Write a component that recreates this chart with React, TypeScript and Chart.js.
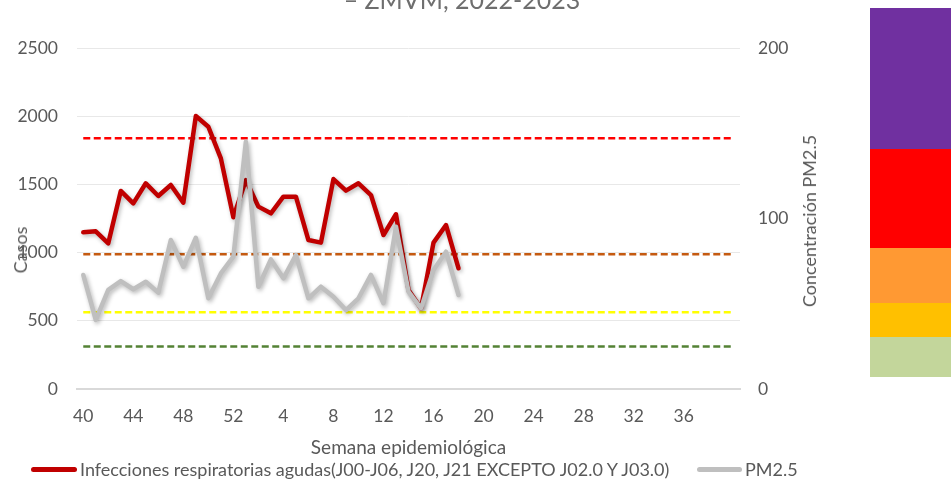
import React, { useEffect, useRef } from 'react';
import { Chart, registerables } from 'chart.js';

Chart.register(...registerables);

// Epidemiological weeks (2022 week 40 → 2023)
const weeks = [40, 41, 42, 43, 44, 45, 46, 47, 48, 49, 50, 51, 52,
  1, 2, 3, 4, 5, 6, 7, 8, 9, 10, 11, 12, 13, 14, 15, 16, 17, 18, 19, 20,
  21, 22, 23, 24, 25, 26, 27, 28, 29, 30, 31, 32, 33, 34, 35, 36, 37, 38, 39, 40];

// Casos: Infecciones respiratorias agudas
const infecciones = [1149, 1156, 1068, 1452, 1361, 1508, 1415, 1496, 1366, 2001, 1923, 1691, 1259,
  1532, 1337, 1288, 1410, 1410, 1092, 1073, 1539, 1454, 1508, 1422, 1129, 1281, 726, 591, 1073, 1202, 885];

// Concentración PM2.5
const pm25 = [66.9, 40.5, 58.1, 63.3, 58.5, 62.9, 56.5, 87.4, 71.7, 88.7, 53.2, 67.8, 77.6,
  145, 60, 76, 64.9, 78.6, 53.2, 60, 54.1, 46.3, 53.2, 66.9, 50.3, 95.2, 57.1, 47.3, 69.8, 80.5, 55.1];

// PM2.5 index thresholds (right axis)
const thresholds = [147, 79, 45, 25];

const seriesNames = ['Infecciones respiratorias agudas(J00-J06, J20, J21 EXCEPTO J02.0 Y J03.0)', 'PM2.5'];
const leftTicks = [0, 500, 1000, 1500, 2000, 2500];
const rightTicks = [0, 100, 200];

const thresholdColors = ['#FF0000', '#C55A11', '#FFFF00', '#548235'];
const FONT = 'Lato, "Open Sans", sans-serif';
const TXT = '#595959';

const shadowPlugin = {
  id: 'lineShadow',
  beforeDatasetDraw(chart: any, args: any) {
    const ds = chart.data.datasets[args.index];
    if (!ds.shadow) return;
    const ctx = chart.ctx;
    ctx.save();
    ctx.shadowColor = 'rgba(0,0,0,0.28)';
    ctx.shadowBlur = 4;
    ctx.shadowOffsetX = 1.5;
    ctx.shadowOffsetY = 2;
  },
  afterDatasetDraw(chart: any, args: any) {
    const ds = chart.data.datasets[args.index];
    if (!ds.shadow) return;
    chart.ctx.restore();
  },
};

export default function App() {
  const ref = useRef<HTMLCanvasElement | null>(null);

  useEffect(() => {
    if (!ref.current) return;
    const last = weeks.length - 1;
    const chart = new Chart(ref.current, {
      type: 'line',
      data: {
        labels: weeks.map(String),
        datasets: [
          {
            label: seriesNames[1],
            data: pm25,
            yAxisID: 'y1',
            borderColor: '#BFBFBF',
            backgroundColor: '#BFBFBF',
            borderWidth: 4.5,
            pointRadius: 0,
            borderJoinStyle: 'round',
            borderCapStyle: 'round',
            tension: 0,
            order: 0,
            shadow: true,
          } as any,
          {
            label: seriesNames[0],
            data: infecciones,
            yAxisID: 'y',
            borderColor: '#C00000',
            backgroundColor: '#C00000',
            borderWidth: 4.5,
            pointRadius: 0,
            borderJoinStyle: 'round',
            borderCapStyle: 'round',
            tension: 0,
            order: 1,
            shadow: true,
          } as any,
          ...thresholds.map((v, k) => ({
            label: 'umbral ' + v,
            data: [{ x: 0, y: v }, { x: last, y: v }],
            xAxisID: 'x2',
            yAxisID: 'y1',
            borderColor: thresholdColors[k],
            borderWidth: 2.5,
            borderDash: [7, 3.5],
            pointRadius: 0,
            order: 2 + k,
          })) as any,
        ],
      },
      options: {
        responsive: false,
        animation: false,
        events: [],
        layout: { padding: { top: 48, left: 0, right: 0, bottom: 0 } },
        plugins: { legend: { display: false }, tooltip: { enabled: false }, title: { display: false } },
        scales: {
          x: {
            type: 'category',
            offset: true,
            grid: { display: false, drawTicks: false },
            border: { display: true, color: '#D9D9D9', width: 2 },
            ticks: {
              autoSkip: false,
              maxRotation: 0,
              padding: 17,
              color: TXT,
              font: { family: FONT, size: 17.5 },
              callback: (_v: any, i: number) => (i % 4 === 0 && i < last ? String(weeks[i]) : null),
            },
            title: {
              display: true,
              text: 'Semana epidemiológica',
              color: TXT,
              font: { family: FONT, size: 19 },
              padding: { top: 0, bottom: 21 },
            },
            afterFit: (s: any) => { s.height = 91; },
          },
          x2: {
            type: 'linear',
            display: false,
            bounds: 'data',
            min: -0.5,
            max: last + 0.5,
          },
          y: {
            position: 'left',
            min: leftTicks[0],
            max: leftTicks[leftTicks.length - 1],
            grid: { color: '#E8E8E8', lineWidth: 1, drawTicks: false },
            border: { display: false },
            ticks: {
              stepSize: leftTicks[1] - leftTicks[0],
              padding: 19,
              color: TXT,
              font: { family: FONT, size: 17.5 },
              callback: (v: any) => String(v),
            },
            afterFit: (s: any) => { s.width = 77; },
          },
          y1: {
            position: 'right',
            min: rightTicks[0],
            max: rightTicks[rightTicks.length - 1],
            grid: { display: false, drawTicks: false },
            border: { display: false },
            ticks: {
              stepSize: rightTicks[1] - rightTicks[0],
              padding: 18,
              color: TXT,
              font: { family: FONT, size: 17.5 },
              callback: (v: any) => String(v),
            },
            afterFit: (s: any) => { s.width = 211; },
          },
        },
      } as any,
      plugins: [shadowPlugin],
    });
    return () => chart.destroy();
  }, []);

  const box = (top: number, h: number, c: string) => (
    <div style={{ position: 'absolute', left: 870, top, width: 81, height: h, background: c }} />
  );

  return (
    <div style={{ position: 'absolute', left: 0, top: 0, width: 951, height: 480, overflow: 'hidden', background: '#fff', fontFamily: FONT }}>
      <canvas ref={ref} width={951} height={480} style={{ position: 'absolute', left: 0, top: 0, display: 'block' }} />
      <div style={{ position: 'absolute', left: 0, width: 924, top: -13, lineHeight: '25px', fontSize: 25, color: '#6E6E6E', textAlign: 'center', whiteSpace: 'nowrap' }}>
        – ZMVM, 2022-2023
      </div>
      {box(8, 141, '#7030A0')}
      {box(149, 99, '#FF0000')}
      {box(248, 55, '#FF9933')}
      {box(303, 34, '#FFC000')}
      {box(337, 40, '#C3D69B')}
      <div style={{ position: 'absolute', left: 20, top: 250, width: 0, height: 0 }}>
        <div style={{ position: 'absolute', transform: 'translate(-50%, -50%) rotate(-90deg)', fontSize: 18, color: TXT, whiteSpace: 'nowrap', lineHeight: '20px' }}>Casos</div>
      </div>
      <div style={{ position: 'absolute', left: 809, top: 221, width: 0, height: 0 }}>
        <div style={{ position: 'absolute', transform: 'translate(-50%, -50%) rotate(-90deg)', fontSize: 18, color: TXT, whiteSpace: 'nowrap', lineHeight: '20px' }}>Concentración PM2.5</div>
      </div>
      <div style={{ position: 'absolute', left: 31, top: 459, height: 20, display: 'flex', alignItems: 'center', fontSize: 18, color: TXT, whiteSpace: 'nowrap' }}>
        <span style={{ display: 'inline-block', width: 46, height: 5, borderRadius: 2.5, background: '#C00000', marginRight: 3 }} />
        {seriesNames[0]}
      </div>
      <div style={{ position: 'absolute', left: 697, top: 459, height: 20, display: 'flex', alignItems: 'center', fontSize: 18, color: TXT, whiteSpace: 'nowrap' }}>
        <span style={{ display: 'inline-block', width: 45, height: 5, borderRadius: 2.5, background: '#BFBFBF', marginRight: 3 }} />
        {seriesNames[1]}
      </div>
    </div>
  );
}
